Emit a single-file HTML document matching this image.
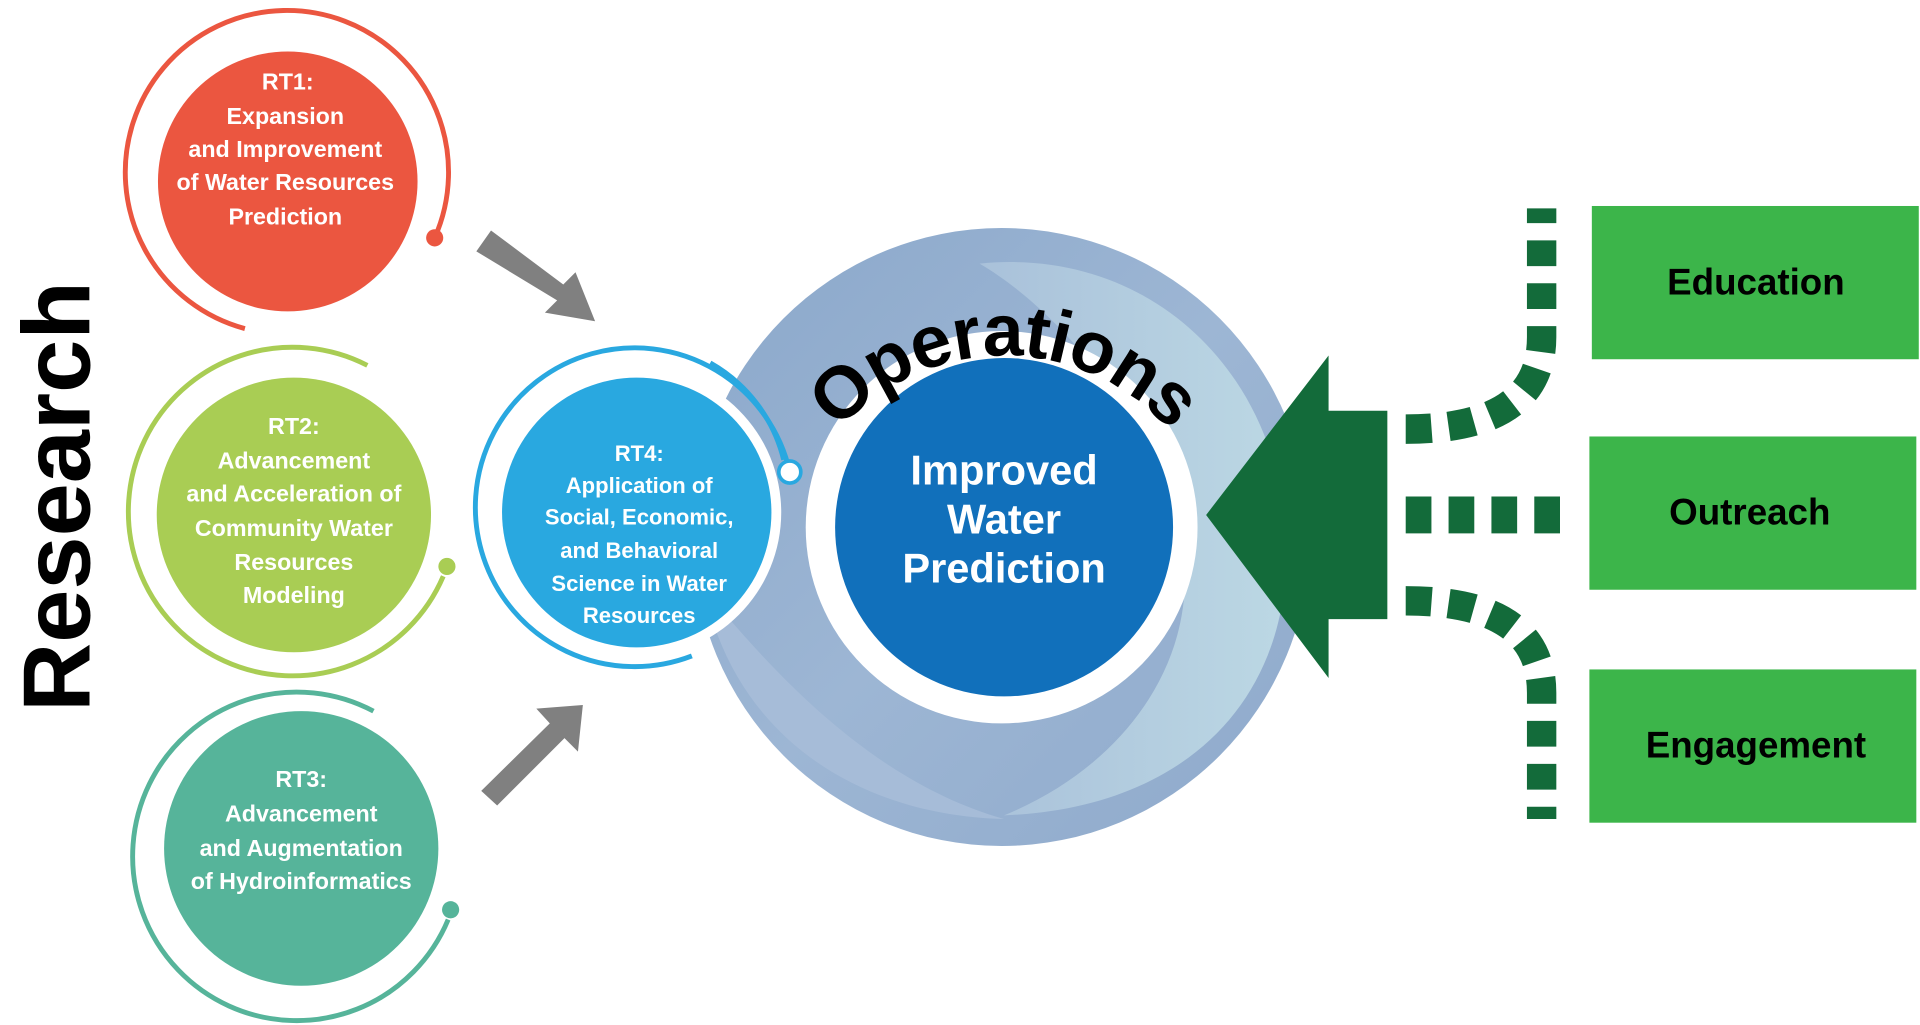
<!DOCTYPE html>
<html><head><meta charset="utf-8"><style>
html,body{margin:0;padding:0;background:#fff;overflow:hidden}
svg{display:block}
text{font-family:"Liberation Sans",sans-serif;font-weight:bold}
</style></head><body>
<svg width="1920" height="1025" viewBox="0 0 1568 836" preserveAspectRatio="none" xmlns="http://www.w3.org/2000/svg">
<defs>
<linearGradient id="sw" x1="0" y1="0" x2="1" y2="1">
<stop offset="0" stop-color="#8aa7ca"/><stop offset="0.5" stop-color="#9db6d4"/><stop offset="1" stop-color="#8ea9cb"/>
</linearGradient>
<linearGradient id="sw2" x1="0" y1="0" x2="1" y2="0">
<stop offset="0" stop-color="#a9c1da"/><stop offset="1" stop-color="#bcd8e4"/>
</linearGradient>
<path id="op" d="M 640,470 A 180 180 0 0 1 1000,470"/>
</defs>

<!-- Research -->
<text x="0" y="0" font-size="78" fill="#000" text-anchor="middle" transform="translate(73,405) rotate(-90)">Research</text>

<!-- RT1 -->
<path d="M 355,194 A 132 132 0 1 0 200,268" fill="none" stroke="#eb5640" stroke-width="4"/>
<circle cx="355" cy="194" r="7" fill="#eb5640"/>
<circle cx="235" cy="148" r="106" fill="#eb5640"/>
<g fill="#fff" font-size="19" text-anchor="middle">
<text x="235" y="73">RT1:</text><text x="233" y="101">Expansion</text><text x="233" y="128">and Improvement</text><text x="233" y="155">of Water Resources</text><text x="233" y="183">Prediction</text></g>

<!-- RT2 -->
<path d="M 300,298 A 134 134 0 1 0 362,470" fill="none" stroke="#a9cd54" stroke-width="4"/>
<circle cx="365" cy="462" r="7" fill="#a9cd54"/>
<circle cx="240" cy="420" r="112" fill="#a9cd54"/>
<g fill="#fff" font-size="19" text-anchor="middle">
<text x="240" y="354">RT2:</text><text x="240" y="382">Advancement</text><text x="240" y="409">and Acceleration of</text><text x="240" y="437">Community Water</text><text x="240" y="465">Resources</text><text x="240" y="492">Modeling</text></g>

<!-- RT3 -->
<path d="M 305,580 A 134 134 0 1 0 366,750" fill="none" stroke="#56b49a" stroke-width="4"/>
<circle cx="368" cy="742" r="7" fill="#56b49a"/>
<circle cx="246" cy="692" r="112" fill="#56b49a"/>
<g fill="#fff" font-size="19" text-anchor="middle">
<text x="246" y="642">RT3:</text><text x="246" y="670">Advancement</text><text x="246" y="698">and Augmentation</text><text x="246" y="725">of Hydroinformatics</text></g>

<!-- gray arrows -->
<polygon points="389,205 401,188 460,232 470,222 486,262 445,255 455,245" fill="#808080"/>
<polygon points="393,645 406,657 461,602 472,613 476,575 438,578 449,590" fill="#808080"/>

<!-- swirl -->
<circle cx="818" cy="438" r="252" fill="url(#sw)"/>
<path d="M 800,215 C 950,200 1060,320 1050,470 C 1040,590 950,660 820,665 C 930,620 990,520 960,420 C 930,330 860,250 800,215 Z" fill="url(#sw2)"/>
<path d="M 575,480 C 600,600 700,665 820,668 C 720,640 640,560 575,480 Z" fill="#a6bcd8"/>

<!-- RT4 -->
<path d="M 645,385 A 130 130 0 1 0 565,535" fill="none" stroke="#29a8e0" stroke-width="4"/>
<path d="M 580,296 A 125 125 0 0 1 640,375" fill="none" stroke="#29a8e0" stroke-width="4"/>
<circle cx="645" cy="385" r="9" fill="#fff" stroke="#29a8e0" stroke-width="3"/>
<circle cx="520" cy="418" r="118" fill="#fff"/>
<circle cx="520" cy="418" r="110" fill="#29a8e0"/>
<g fill="#fff" font-size="18" text-anchor="middle">
<text x="522" y="376">RT4:</text><text x="522" y="402">Application of</text><text x="522" y="428">Social, Economic,</text><text x="522" y="455">and Behavioral</text><text x="522" y="482">Science in Water</text><text x="522" y="508">Resources</text></g>

<!-- center -->
<circle cx="818" cy="430" r="160" fill="#fff"/>
<circle cx="820" cy="430" r="138" fill="#1170bb"/>
<g fill="#fff" font-size="34" text-anchor="middle">
<text x="820" y="395">Improved</text><text x="820" y="435">Water</text><text x="820" y="475">Prediction</text></g>
<text font-size="60" fill="#000" letter-spacing="-1"><textPath href="#op" startOffset="50%" text-anchor="middle">Operations</textPath></text>

<!-- big green arrow -->
<polygon points="985,420 1085,290 1085,335 1133,335 1133,505 1085,505 1085,553" fill="#136b3a"/>

<!-- dashed connectors -->
<g fill="none" stroke="#136b3a" stroke-width="24" stroke-dasharray="21 14">
<path d="M 1148,350 Q 1259,350 1259,275 L 1259,170"/>
<path d="M 1148,420 L 1274,420" stroke-width="30"/>
<path d="M 1148,490 Q 1259,490 1259,565 L 1259,668"/>
</g>

<!-- boxes -->
<rect x="1300" y="168" width="267" height="125" fill="#3cb54a"/>
<rect x="1298" y="356" width="267" height="125" fill="#3cb54a"/>
<rect x="1298" y="546" width="267" height="125" fill="#3cb54a"/>
<g fill="#000" font-size="30" text-anchor="middle">
<text x="1434" y="240">Education</text><text x="1429" y="428">Outreach</text><text x="1434" y="618">Engagement</text></g>
</svg>
</body></html>
